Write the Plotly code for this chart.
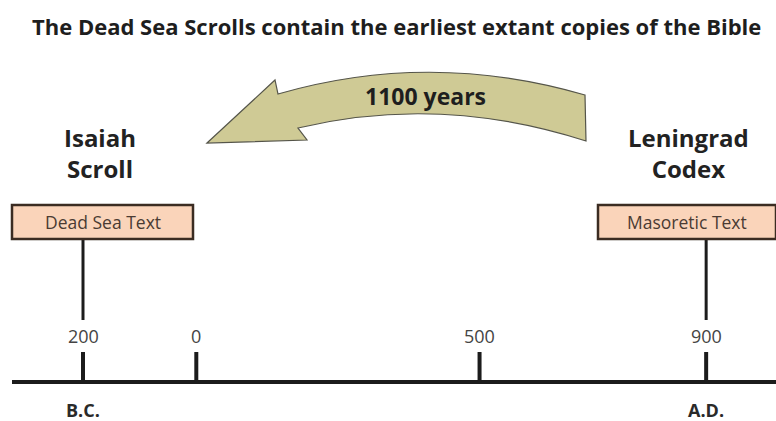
import plotly.graph_objects as go

# ---------------- data ----------------
tick_years = [-200, 0, 500, 900]
tick_labels = ["200", "0", "500", "900"]
era_years = [-200, 900]
era_labels = ["B.C.", "A.D."]
manuscript_years = [-200, 900]
manuscript_names = ["Isaiah<br>Scroll", "Leningrad<br>Codex"]
text_types = ["Dead Sea Text", "Masoretic Text"]
gap_label = "1100 years"
title_text = "The Dead Sea Scrolls contain the earliest extant copies of the Bible"

# ---------------- layout constants ----------------
W, H = 776, 421
X0_PX, PX_PER_YEAR = 196.3, 0.5665
x_range = [(0 - X0_PX) / PX_PER_YEAR, (W - X0_PX) / PX_PER_YEAR]
FONT = "Open Sans"
INK = "#1c1c1c"


def px_to_year(px):
    return (px - X0_PX) / PX_PER_YEAR


def pp(x, y):
    """pixel -> paper coordinate string"""
    return f"{x / W:.5f},{1 - y / H:.5f}"


fig = go.Figure()
shapes = []
annotations = []

# main timeline
line_y = 382
shapes.append(dict(type="line", xref="x", yref="y", x0=px_to_year(12), x1=x_range[1],
                   y0=line_y, y1=line_y, line=dict(color=INK, width=4)))

# ticks and tick labels
for yr, lab in zip(tick_years, tick_labels):
    shapes.append(dict(type="line", xref="x", yref="y", x0=yr, x1=yr, y0=352, y1=line_y,
                       line=dict(color=INK, width=4)))
    annotations.append(dict(x=yr, y=336, xref="x", yref="y", text=lab, showarrow=False,
                            xanchor="center", yanchor="middle",
                            font=dict(family=FONT, size=18, color="#444444")))

# era labels
for yr, lab in zip(era_years, era_labels):
    annotations.append(dict(x=yr, y=410, xref="x", yref="y", text=f"<b>{lab}</b>",
                            showarrow=False, xanchor="center", yanchor="middle",
                            font=dict(family=FONT, size=18, color="#2a2a2a")))

# stems from boxes
for yr in manuscript_years:
    shapes.append(dict(type="line", xref="x", yref="y", x0=yr, x1=yr, y0=238, y1=320,
                       line=dict(color=INK, width=3)))

# text-type boxes
box_px = [(12, 193), (598, 776)]
for (bx0, bx1), ttxt in zip(box_px, text_types):
    shapes.append(dict(type="rect", xref="x", yref="y", x0=px_to_year(bx0), x1=px_to_year(bx1),
                       y0=205, y1=239, fillcolor="#FAD4BA",
                       line=dict(color="#3b2c22", width=2.5), layer="above"))
    annotations.append(dict(x=px_to_year((bx0 + bx1) / 2), y=222, xref="x", yref="y",
                            text=ttxt, showarrow=False, xanchor="center", yanchor="middle",
                            font=dict(family=FONT, size=17.5, color="#4a3b33")))

# manuscript names
name_px = [100, 688]
for cx, nm in zip(name_px, manuscript_names):
    annotations.append(dict(x=px_to_year(cx), y=153, xref="x", yref="y", text=f"<b>{nm}</b>",
                            showarrow=False, xanchor="center", yanchor="middle",
                            font=dict(family=FONT, size=24, color="#222222")))

# curved arrow
arrow_path = (
    f"M{pp(207,143)} L{pp(275,80)} L{pp(278,94)} "
    f"Q{pp(430,50)} {pp(585,95)} L{pp(586,141)} "
    f"Q{pp(440,94)} {pp(298,128)} L{pp(307,140)} Z"
)
shapes.append(dict(type="path", xref="paper", yref="paper", path=arrow_path,
                   fillcolor="#CFCA95", line=dict(color="#55554a", width=1.2)))
annotations.append(dict(x=425 / W, y=1 - 96 / H, xref="paper", yref="paper",
                        text=f"<b>{gap_label}</b>", showarrow=False,
                        xanchor="center", yanchor="middle",
                        font=dict(family=FONT, size=23, color="#1e1e1e")))

# title
annotations.append(dict(x=397 / W, y=1 - 26 / H, xref="paper", yref="paper",
                        text=f"<b>{title_text}</b>", showarrow=False,
                        xanchor="center", yanchor="middle",
                        font=dict(family=FONT, size=22, color="#1e1e1e")))

fig.add_trace(go.Scatter(x=tick_years, y=[line_y] * len(tick_years), mode="markers",
                         marker=dict(size=1, color="rgba(0,0,0,0)"), hoverinfo="skip",
                         showlegend=False))

fig.update_layout(
    width=W, height=H, margin=dict(l=0, r=0, t=0, b=0),
    paper_bgcolor="white", plot_bgcolor="white",
    xaxis=dict(range=x_range, visible=False, fixedrange=True),
    yaxis=dict(range=[H, 0], visible=False, fixedrange=True),
    shapes=shapes, annotations=annotations, showlegend=False,
)

fig.write_html("out.html", config={"displayModeBar": False},
               post_script="document.body.style.margin='0';")
